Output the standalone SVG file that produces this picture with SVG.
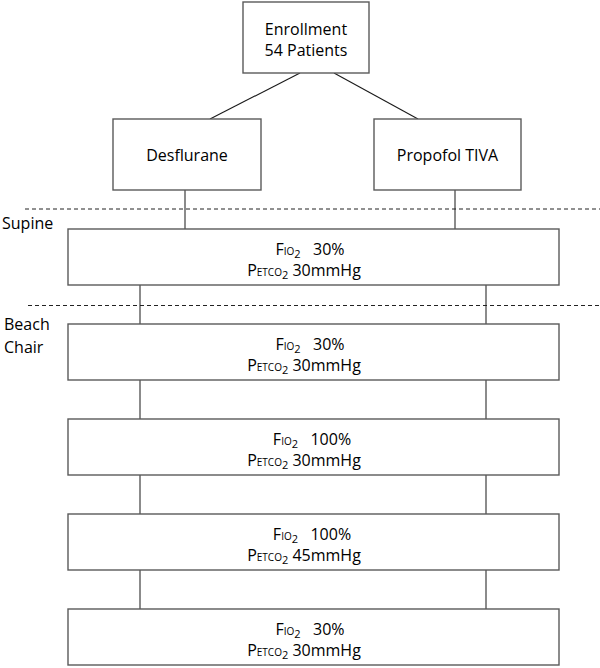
<svg xmlns="http://www.w3.org/2000/svg" width="600" height="668" viewBox="0 0 600 668">
<style>
.box{fill:#fff;stroke:#5a5a5a;stroke-width:1.4}
.ln{stroke:#5a5a5a;stroke-width:1.4;fill:none}
.dg{stroke:#1a1a1a;stroke-width:1.1}
.dash{stroke:#222;stroke-width:1;stroke-dasharray:4 3}
text{font-family:"Open Sans","Noto Sans","Liberation Sans",sans-serif;font-size:16px;fill:#000;white-space:pre}
.c{text-anchor:middle}
.sc{font-size:10px}
.sub{font-size:11px}
</style>
<rect width="600" height="668" fill="#fff"/>
<g id="connectors">
<line class="dg" x1="300" y1="73" x2="210" y2="119"/>
<line class="dg" x1="334" y1="73" x2="418" y2="119"/>
<line class="ln" x1="185" y1="190" x2="185" y2="229"/>
<line class="ln" x1="455" y1="190" x2="455" y2="229"/>
<line class="ln" x1="140" y1="285" x2="140" y2="324"/>
<line class="ln" x1="486" y1="285" x2="486" y2="324"/>
<line class="ln" x1="140" y1="380" x2="140" y2="419"/>
<line class="ln" x1="486" y1="380" x2="486" y2="419"/>
<line class="ln" x1="140" y1="475" x2="140" y2="514"/>
<line class="ln" x1="486" y1="475" x2="486" y2="514"/>
<line class="ln" x1="140" y1="570" x2="140" y2="609"/>
<line class="ln" x1="486" y1="570" x2="486" y2="609"/>
</g>
<g id="phase-lines">
<line class="dash" x1="25" y1="209" x2="600" y2="209"/>
<line class="dash" x1="28" y1="305.5" x2="600" y2="305.5"/>
<text x="2" y="229">Supine</text>
<text x="4" y="330">Beach</text>
<text x="4" y="353">Chair</text>
</g>
<g id="enrollment">
<rect class="box" x="243" y="2" width="126" height="71"/>
<text class="c" x="306" y="35">Enrollment</text>
<text class="c" x="306" y="56">54 Patients</text>
</g>
<g id="desflurane">
<rect class="box" x="113" y="119" width="148" height="71"/>
<text class="c" x="187" y="161">Desflurane</text>
</g>
<g id="propofol">
<rect class="box" x="374" y="119" width="147" height="71"/>
<text class="c" x="447.5" y="161">Propofol TIVA</text>
</g>
<g id="step1">
<rect class="box" x="68" y="229" width="491" height="56"/>
<text class="c" x="310" y="255">F<tspan class="sc">IO</tspan><tspan class="sub" dy="2.5">2</tspan><tspan dy="-2.5">   30%</tspan></text>
<text class="c" x="304" y="276">P<tspan class="sc">ETCO</tspan><tspan class="sub" dy="2.5">2</tspan><tspan dy="-2.5"> 30mmHg</tspan></text>
</g>
<g id="step2">
<rect class="box" x="68" y="324" width="491" height="56"/>
<text class="c" x="310" y="350">F<tspan class="sc">IO</tspan><tspan class="sub" dy="2.5">2</tspan><tspan dy="-2.5">   30%</tspan></text>
<text class="c" x="304" y="371">P<tspan class="sc">ETCO</tspan><tspan class="sub" dy="2.5">2</tspan><tspan dy="-2.5"> 30mmHg</tspan></text>
</g>
<g id="step3">
<rect class="box" x="68" y="419" width="491" height="56"/>
<text class="c" x="312" y="445">F<tspan class="sc">IO</tspan><tspan class="sub" dy="2.5">2</tspan><tspan dy="-2.5">   100%</tspan></text>
<text class="c" x="304" y="466">P<tspan class="sc">ETCO</tspan><tspan class="sub" dy="2.5">2</tspan><tspan dy="-2.5"> 30mmHg</tspan></text>
</g>
<g id="step4">
<rect class="box" x="68" y="514" width="491" height="56"/>
<text class="c" x="312" y="540">F<tspan class="sc">IO</tspan><tspan class="sub" dy="2.5">2</tspan><tspan dy="-2.5">   100%</tspan></text>
<text class="c" x="304" y="561">P<tspan class="sc">ETCO</tspan><tspan class="sub" dy="2.5">2</tspan><tspan dy="-2.5"> 45mmHg</tspan></text>
</g>
<g id="step5">
<rect class="box" x="68" y="609" width="491" height="56"/>
<text class="c" x="310" y="635">F<tspan class="sc">IO</tspan><tspan class="sub" dy="2.5">2</tspan><tspan dy="-2.5">   30%</tspan></text>
<text class="c" x="304" y="656">P<tspan class="sc">ETCO</tspan><tspan class="sub" dy="2.5">2</tspan><tspan dy="-2.5"> 30mmHg</tspan></text>
</g>
</svg>
